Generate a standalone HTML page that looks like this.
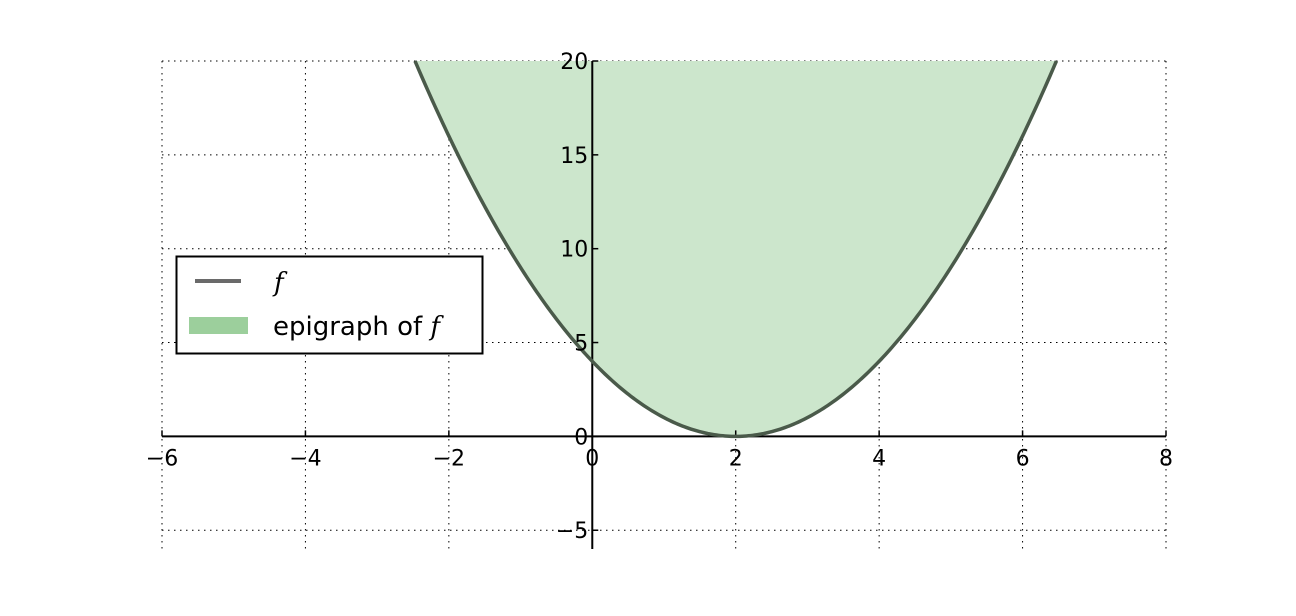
<!DOCTYPE html>
<html><head><meta charset="utf-8"><style>
html,body{margin:0;padding:0;background:#fff;}
svg text{font-family:"DejaVu Sans","Liberation Sans",sans-serif;font-size:22px;fill:#000;}
.m{font-family:"DejaVu Serif","Liberation Serif",serif;font-style:italic;}
</style></head><body>
<svg id="chart" width="1296" height="611" xmlns="http://www.w3.org/2000/svg">
<g id="grid"></g>
<path id="fill" fill="#cce6cc" stroke="none"/>
<g id="axes"></g>
<path id="curve" fill="none" stroke="#4a5a4a" stroke-width="3.5"/>
<g id="labels"></g>
<g>
<rect x="176.5" y="256.5" width="306" height="97" fill="#fff" stroke="#000" stroke-width="2"/>
<line x1="195" y1="281" x2="241" y2="281" stroke="#6a6a6a" stroke-width="4"/>
<text x="274" y="291" class="m" style="font-size:26px">f</text>
<rect x="189" y="317" width="59" height="17" fill="#9ccf9c"/>
<text x="273" y="335" style="font-size:26px">epigraph of <tspan class="m">f</tspan></text>
</g>
</svg>
<script>
const xTicks=[-6,-4,-2,0,2,4,6,8];
const yTicks=[-5,0,5,10,15,20];
const xLabels=["\u22126","\u22124","\u22122","0","2","4","6","8"];
const yLabels=["\u22125","0","5","10","15","20"];
const vertex=[2,0];
const X0=162,X1=1166,Y0=549,Y1=61,xmin=-6,xmax=8,ymin=-6,ymax=20;
const sx=v=>X0+(v-xmin)/(xmax-xmin)*(X1-X0);
const sy=v=>Y0-(v-ymin)/(ymax-ymin)*(Y0-Y1);
const NS="http://www.w3.org/2000/svg";
function mk(t,a,p){const e=document.createElementNS(NS,t);for(const k in a)e.setAttribute(k,a[k]);p.appendChild(e);return e;}
const grid=document.getElementById('grid'),axes=document.getElementById('axes'),labels=document.getElementById('labels');
xTicks.forEach((v,i)=>{
 const l=mk('line',{x1:sx(v),x2:sx(v),y1:Y1,y2:Y0,stroke:'#000','stroke-width':1,'stroke-dasharray':'1.5,4.5'},grid);
 
 
 const t=mk('line',{x1:sx(v),x2:sx(v),y1:sy(0)-6,y2:sy(0),stroke:'#000','stroke-width':1.5},axes);
 
 
 const tx=mk('text',{x:sx(v),y:sy(0)+29,'text-anchor':'middle'},labels);tx.textContent=xLabels[i];
 
 
});
yTicks.forEach((v,i)=>{
 const l=mk('line',{x1:X0,x2:X1,y1:sy(v),y2:sy(v),stroke:'#000','stroke-width':1,'stroke-dasharray':'1.5,4.5'},grid);
 
 
 const t=mk('line',{x1:sx(0),x2:sx(0)+6,y1:sy(v),y2:sy(v),stroke:'#000','stroke-width':1.5},axes);
 
 
 const tx=mk('text',{x:sx(0)-4,y:sy(v)+8,'text-anchor':'end'},labels);tx.textContent=yLabels[i];
 
 
});
const xa=mk('line',{x1:X0,x2:X1,y1:sy(0),y2:sy(0),stroke:'#000','stroke-width':2},axes);


const ya=mk('line',{x1:sx(0),x2:sx(0),y1:Y1,y2:Y0,stroke:'#000','stroke-width':2},axes);


const f=x=>(x-vertex[0])**2+vertex[1];
const r=Math.sqrt(ymax-vertex[1]);
let pts=[];
for(let i=0;i<=300;i++){const x=vertex[0]-r+2*r*i/300;pts.push([sx(x),sy(Math.min(f(x),ymax))]);}
const d='M'+pts.map(p=>p[0].toFixed(2)+','+p[1].toFixed(2)).join('L');
document.getElementById('curve').setAttribute('d',d);
document.getElementById('fill').setAttribute('d',d+'Z');
</script>
</body></html>
